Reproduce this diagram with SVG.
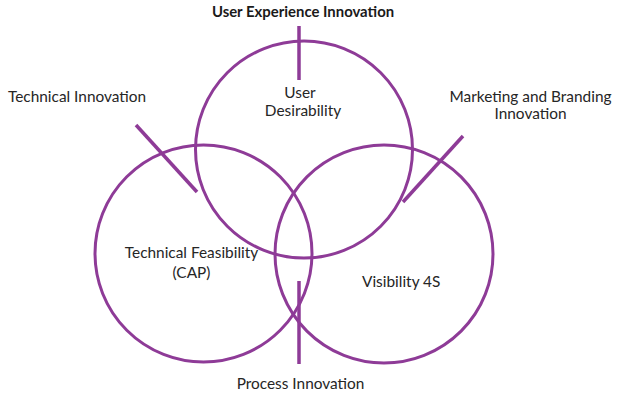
<svg xmlns="http://www.w3.org/2000/svg" width="618" height="396" viewBox="0 0 618 396">
<style>
.c{fill:none;stroke:#8E3B97;stroke-width:3}
.l{stroke:#8E3B97;stroke-width:3.5;fill:none}
text{font-family:Lato,"Liberation Sans",sans-serif;font-size:15.4px;fill:#262626}
.m{text-anchor:middle}
.b{font-weight:bold;font-size:14.9px;fill:#1a1a1a}
</style>
<rect width="618" height="396" fill="#fff"/>
<g id="circle-user">
<circle class="c" cx="304" cy="149.5" r="108.5"/>
<text class="m" x="300" y="98">User</text>
<text class="m" x="303" y="116">Desirability</text>
</g>
<g id="circle-tech">
<circle class="c" cx="203.5" cy="253.5" r="108.5"/>
<text class="m" x="191.5" y="258">Technical Feasibility</text>
<text class="m" x="191.5" y="278">(CAP)</text>
</g>
<g id="circle-vis">
<circle class="c" cx="384" cy="254" r="109"/>
<text x="362" y="287">Visibility 4S</text>
</g>
<g id="connectors">
<line class="l" x1="299" y1="26" x2="299" y2="80"/>
<line class="l" x1="136" y1="125" x2="197" y2="192"/>
<line class="l" x1="463" y1="136" x2="403" y2="202"/>
<line class="l" x1="299" y1="281" x2="299" y2="364"/>
</g>
<g id="label-ux">
<text class="m b" x="303" y="17">User Experience Innovation</text>
</g>
<g id="label-tech">
<text x="8" y="102">Technical Innovation</text>
</g>
<g id="label-mkt">
<text class="m" x="530.5" y="102">Marketing and Branding</text>
<text class="m" x="530.5" y="119">Innovation</text>
</g>
<g id="label-process">
<text class="m" x="300.5" y="389">Process Innovation</text>
</g>
</svg>
